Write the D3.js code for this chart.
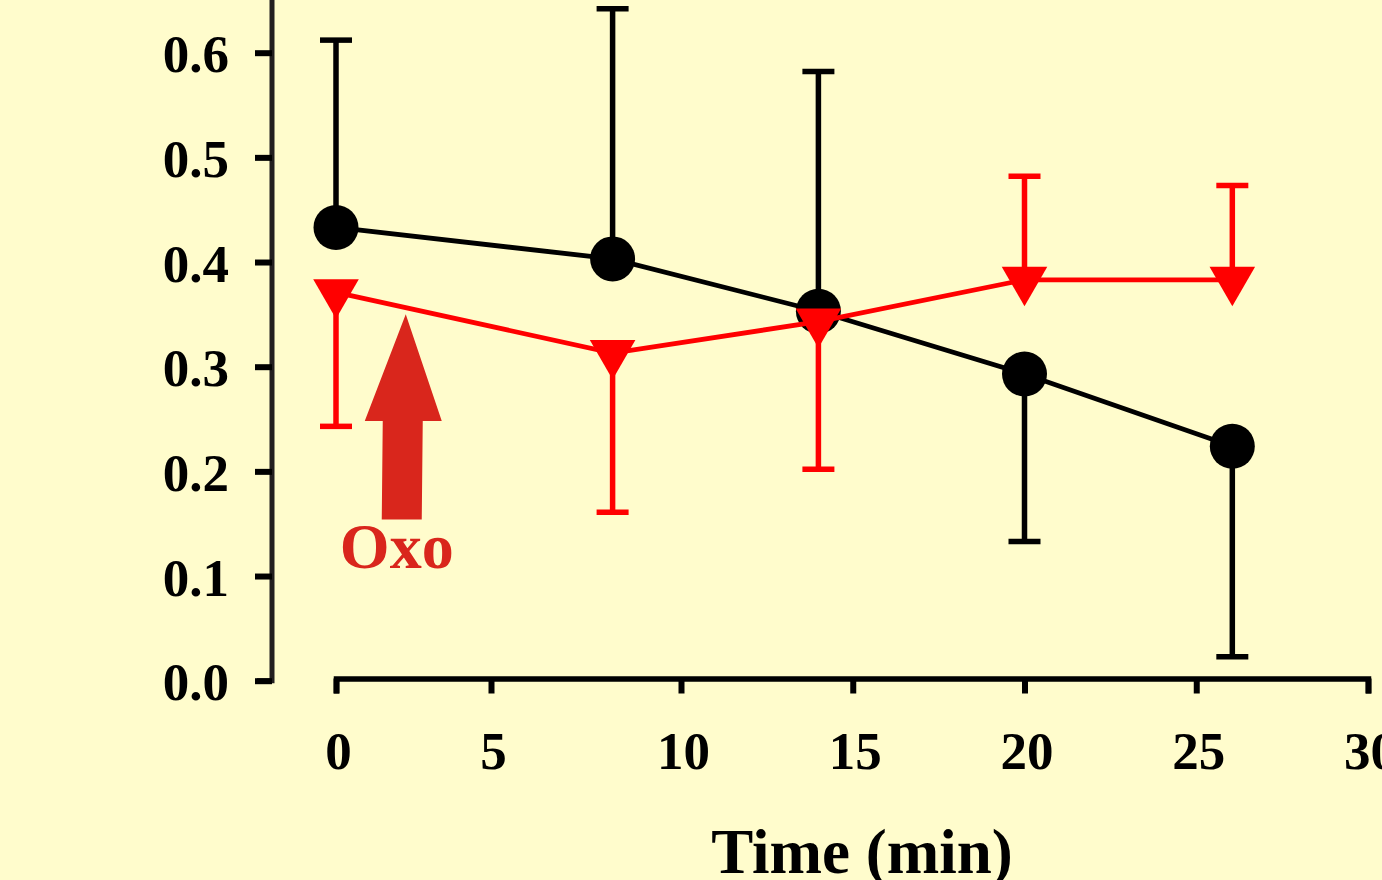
<!DOCTYPE html>
<html>
<head>
<style>
body { margin: 0; background: #fffccc; }
svg { display: block; background: #fffccc; }
.tick text { font-family: "Liberation Serif", "Times New Roman", serif; font-weight: bold; font-size: 53px; fill: #000; }
.title { font-family: "Liberation Serif", "Times New Roman", serif; font-weight: bold; font-size: 63px; fill: #000; }
.oxo { font-family: "Liberation Serif", "Times New Roman", serif; font-weight: bold; font-size: 64px; fill: #d9261c; }
</style>
<script src="https://d3js.org/d3.v7.min.js"></script>
</head>
<body>
<svg width="1382" height="880"></svg>
<script>
// data
var times = [0, 8.2, 14, 20, 26.05];
var ctrlMean = [0.433, 0.403, 0.353, 0.293, 0.224];
var ctrlErr = [0.612, 0.642, 0.582, 0.133, 0.023];   // end of the one-sided bar
var oxoMean = [0.371, 0.313, 0.343, 0.383, 0.383];
var oxoErr = [0.243, 0.161, 0.202, 0.482, 0.473];
var xTicks = [0, 5, 10, 15, 20, 25, 30];
var yTicks = [0, 0.1, 0.2, 0.3, 0.4, 0.5, 0.6];

var svg = d3.select("svg");

// x axis of the original is slightly uneven between 0 and 10
var x = d3.scaleLinear().domain([0, 5, 10, 30]).range([336, 491, 681, 1368]);
var y = d3.scaleLinear().domain([0, 0.65]).range([680.7, 0.35]);

// y axis
var yAxis = svg.append("g")
  .attr("transform", "translate(272,0)")
  .call(d3.axisLeft(y).tickValues(yTicks).tickFormat(d3.format(".1f")).tickSize(17).tickSizeOuter(0).tickPadding(26));
yAxis.select(".domain").attr("stroke", "#231f20").attr("stroke-width", 5)
  .attr("d", "M-15," + y(0) + "H0V0");
yAxis.selectAll(".tick line").attr("stroke", "#000").attr("stroke-width", 6);
yAxis.selectAll(".tick text").attr("dy", "0.36em");

// x axis
var xAxis = svg.append("g")
  .attr("transform", "translate(0,678.5)")
  .call(d3.axisBottom(x).tickValues(xTicks).tickSize(15).tickSizeOuter(15));
xAxis.select(".domain").attr("stroke", "#000").attr("stroke-width", 5.5);
xAxis.selectAll(".tick line").attr("stroke", "#000").attr("stroke-width", 6);
xAxis.selectAll(".tick text").attr("y", 90).attr("dy", 0).attr("dx", 2);

svg.append("text").attr("class", "title")
  .attr("x", 862).attr("y", 873).attr("text-anchor", "middle")
  .text("Time (min)");

function drawSeries(mean, err, color, marker) {
  var g = svg.append("g");
  var pts = times.map(function(t, i) { return {t: t, m: mean[i], e: err[i]}; });
  // error bars (one-sided)
  g.selectAll(".stem").data(pts).enter().append("line")
    .attr("x1", function(d) { return x(d.t); })
    .attr("x2", function(d) { return x(d.t); })
    .attr("y1", function(d) { return y(d.m); })
    .attr("y2", function(d) { return y(d.e); })
    .attr("stroke", color).attr("stroke-width", 5.5);
  g.selectAll(".cap").data(pts).enter().append("line")
    .attr("x1", function(d) { return x(d.t) - 16; })
    .attr("x2", function(d) { return x(d.t) + 16; })
    .attr("y1", function(d) { return y(d.e); })
    .attr("y2", function(d) { return y(d.e); })
    .attr("stroke", color).attr("stroke-width", 5.5);
  // line
  g.append("path").datum(pts)
    .attr("fill", "none").attr("stroke", color).attr("stroke-width", 4.8)
    .attr("d", d3.line().x(function(d) { return x(d.t); }).y(function(d) { return y(d.m); }));
  // markers
  if (marker === "circle") {
    g.selectAll(".pt").data(pts).enter().append("circle")
      .attr("cx", function(d) { return x(d.t); })
      .attr("cy", function(d) { return y(d.m); })
      .attr("r", 22.5).attr("fill", color);
  } else {
    var tri = d3.symbol().type(d3.symbolTriangle).size(900);
    g.selectAll(".pt").data(pts).enter().append("path")
      .attr("d", tri)
      .attr("transform", function(d) { return "translate(" + x(d.t) + "," + y(d.m) + ") rotate(180)"; })
      .attr("fill", color);
  }
}

drawSeries(ctrlMean, ctrlErr, "#000", "circle");
drawSeries(oxoMean, oxoErr, "#ff0000", "triangle");

// "Oxo" arrow annotation
var arrowT = 2.25, arrowTip = 0.35, arrowNeck = 0.248, arrowBase = 0.154;
var ax = x(arrowT);
var arrow = d3.path();
arrow.moveTo(ax, y(arrowTip));
arrow.lineTo(ax + 36, y(arrowNeck));
arrow.lineTo(ax + 17, y(arrowNeck));
arrow.lineTo(ax + 16, y(arrowBase));
arrow.lineTo(ax - 24, y(arrowBase));
arrow.lineTo(ax - 23, y(arrowNeck));
arrow.lineTo(ax - 41, y(arrowNeck));
arrow.closePath();
svg.append("path").attr("d", arrow.toString()).attr("fill", "#d9261c");

svg.append("text").attr("class", "oxo")
  .attr("x", ax - 9).attr("y", y(0.108)).attr("text-anchor", "middle")
  .text("Oxo");
</script>
</body>
</html>
